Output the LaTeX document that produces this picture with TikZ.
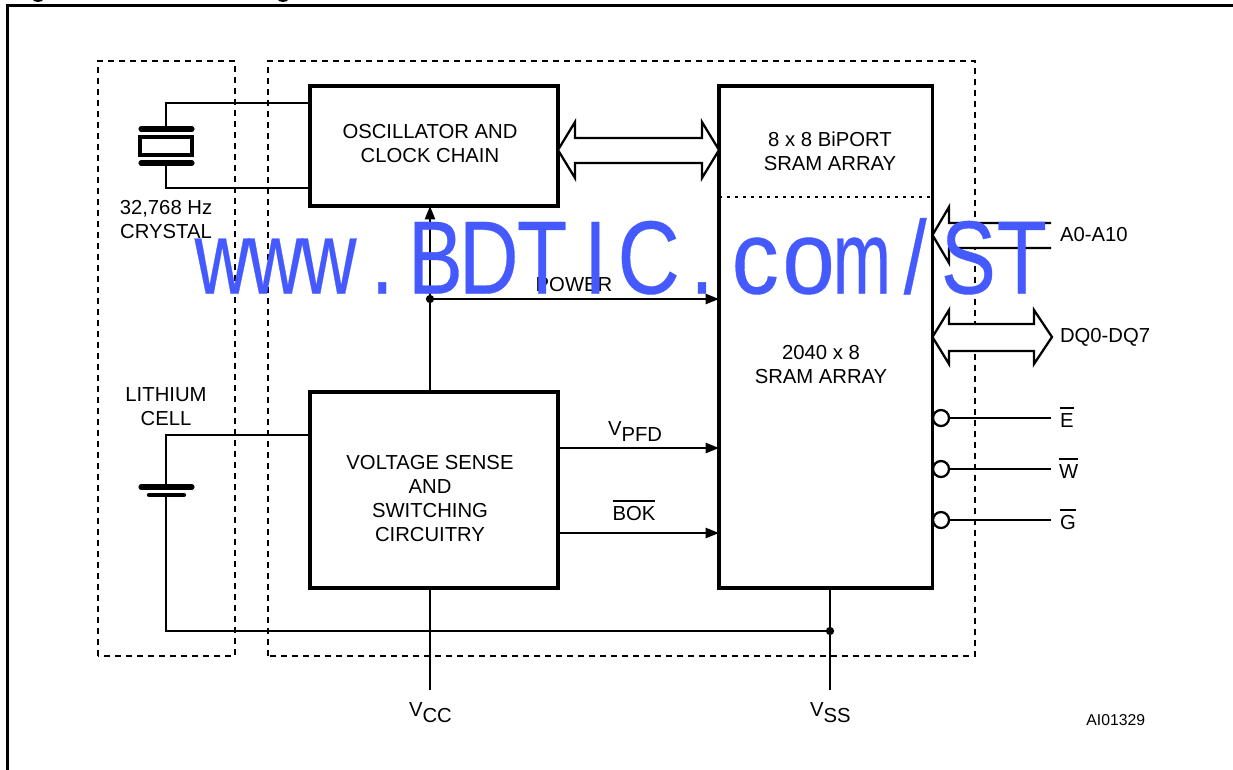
\documentclass[tikz,border=0pt]{standalone}
\usepackage{fontspec}
\usepackage{graphicx}
\setmainfont{Liberation Sans}
\newfontfamily\wmfont[FakeBold=0.35]{Liberation Sans}
\usetikzlibrary{arrows.meta,calc}
\definecolor{wmblue}{RGB}{68,90,255}
\newcommand\ovl[1]{\vbox{\hrule height 1.2pt \kern 3pt \hbox{#1}}}
\newcommand\wc[1]{\makebox[50.6pt][c]{#1}}
\newcommand\wcs[2]{\makebox[50.6pt][c]{\scalebox{#1}[1]{#2}}}
\newcommand\lowr[1]{\raisebox{-4.6pt}{#1}}
\tikzset{
  blk/.style={draw,line width=2.4pt,outer sep=0pt,inner sep=0pt,fill=white},
  wire/.style={line width=1.7pt,line join=miter},
  heavyplate/.style={line width=3.8pt,line cap=round},
  lightplate/.style={line width=3.2pt,line cap=round},
  dashbox/.style={line width=1.7pt,dash pattern=on 4.2pt off 4.05pt},
  divider/.style={line width=1.9pt,dash pattern=on 2.6pt off 3.4pt},
  arr/.style={wire,-{Triangle[length=10pt,width=7.5pt]}},
  busarrow/.style={line width=1.7pt,fill=white,line join=miter},
  lbl/.style={inner sep=0pt,outer sep=0pt,align=center},
  bubble/.style={circle,draw,line width=1.7pt,fill=white,minimum size=12pt,inner sep=0pt,outer sep=0pt},
  junction/.style={circle,fill=black,minimum size=6.2pt,inner sep=0pt,outer sep=0pt},
}
\begin{document}
\begin{tikzpicture}[x=0.75pt,y=-0.75pt,font=\fontsize{15.2}{18}\selectfont]
\useasboundingbox (0,0) rectangle (1233,769);
\fill[white] (0,0) rectangle (1233,769);
% cut-off title remnants and frame
\fill (38,-1) ellipse (5.5 and 3);
\fill (283,-1) ellipse (5.5 and 3);
\draw[line width=2.25pt] (7,772) -- (7,5) -- (1236,5);
% dashed regions
\draw[dashbox] (98,656) -- (98,61) -- (235,61) -- (235,656) -- cycle;
\draw[dashbox] (268,656) -- (268,61) -- (975,61) -- (975,656) -- cycle;
% blocks
\node[blk,minimum width=186pt,minimum height=90pt] (osc) at (434,146) {};
\node[lbl] (osct) at (430,144) {OSCILLATOR AND\\CLOCK CHAIN};
\node[blk,minimum width=186pt,minimum height=147pt] (volt) at (434,490) {};
\node[lbl] (voltt) at (430,499) {VOLTAGE SENSE\\AND\\SWITCHING\\CIRCUITRY};
\node[blk,minimum width=160.1pt,minimum height=376.5pt] (sram) at (825.75,337) {};
\draw[divider] (sram.west|-0,197) -- (sram.east|-0,197);
\node[lbl] (biport) at (830,151) {8 x 8 BiPORT\\SRAM ARRAY};
\node[lbl] (arr2040) at (821,365) {2040 x 8\\SRAM ARRAY};
% crystal
\coordinate (xt) at (166,127);
\coordinate (xb) at (166,164);
\draw[wire] (osc.west|-0,103) -- (166,103) -- (xt);
\draw[wire] (osc.west|-0,188) -- (166,188) -- (xb);
\draw[heavyplate] (141,129) -- (192,129);
\draw[heavyplate] (141,163) -- (192,163);
\node[draw,line width=2.5pt,minimum width=39pt,minimum height=13.5pt,outer sep=0pt,inner sep=0pt] (quartz) at (166,146) {};
\node[lbl] (xtal) at (166,220) {32,768 Hz\\CRYSTAL};
% battery
\node[lbl] (cell) at (166,407) {LITHIUM\\CELL};
\coordinate (batt) at (166,487);
\coordinate (battm) at (166,495);
\coordinate (vcc) at (430,690);
\coordinate (vss) at (830,690);
\draw[wire] (volt.west|-0,435) -- (166,435) -- (batt);
\draw[heavyplate] (141,487) -- (192,487);
\draw[lightplate] (149,495) -- (184,495);
\node[junction] (gnd) at (830,631) {};
\draw[wire] (battm) -- (166,631) -- (gnd);
\draw[wire] (sram.south-|vss) -- (vss);
\draw[wire] (volt.south-|vcc) -- (vcc);
% power
\node[junction] (pwr) at (430,299) {};
\draw[arr] (volt.north-|pwr) -- (osc.south-|pwr);
\draw[arr] (pwr) -- (sram.west|-pwr);
\node[lbl,anchor=base] (power) at (574,291) {POWER};
% status
\coordinate (pfd) at (volt.east|-0,448);
\coordinate (bok) at (volt.east|-0,533);
\draw[arr] (pfd) -- (sram.west|-pfd);
\draw[arr] (bok) -- (sram.west|-bok);
\node[lbl,anchor=base west] (vpfdl) at (608,435) {V\lowr{PFD}};
\node[lbl,anchor=base] (bokl) at (634,520) {\ovl{BOK}};
% internal bus
\draw[busarrow] (osc.east|-0,150) -- ++(17,-28) -- ++(0,16) -- (702,138) -- (702,122) -- (sram.west|-0,150) -- (702,178) -- (702,163) -- (575,163) -- (575,178) -- cycle;
% address bus
\draw[busarrow] (1051,223) -- (949,223) -- (949,207) -- (sram.east|-0,235) -- (949,263) -- (949,248) -- (1051,248);
\node[lbl,anchor=base west] (addr) at (1060,241) {A0-A10};
% data bus
\draw[busarrow] (sram.east|-0,337) -- (949,310) -- (949,324) -- (1034,324) -- (1034,310) -- (1052,337) -- (1034,364) -- (1034,351) -- (949,351) -- (949,364) -- cycle;
\node[lbl,anchor=base west] (data) at (1060,342) {DQ0-DQ7};
% control pins
\node[bubble] (be) at (941,418) {};
\node[bubble] (bw) at (941,469) {};
\node[bubble] (bg) at (941,520) {};
\coordinate (ee) at (1051,418);
\coordinate (we) at (1051,469);
\coordinate (ge) at (1051,520);
\draw[wire] (be) -- (ee);
\draw[wire] (bw) -- (we);
\draw[wire] (bg) -- (ge);
\node[lbl,anchor=base west] (el) at (1060,427) {\ovl{E}};
\node[lbl,anchor=base west] (wl) at (1059,478) {\ovl{W}};
\node[lbl,anchor=base west] (gl) at (1060,529) {\ovl{G}};
% supply labels
\node[lbl,anchor=base west] (vccl) at (409,716) {V\lowr{CC}};
\node[lbl,anchor=base west] (vssl) at (810,716) {V\lowr{SS}};
\node[lbl,anchor=base east,font=\fontsize{11.8}{13}\selectfont] (ref) at (1145,725) {AI01329};
% watermark
\node[lbl,anchor=base,text=wmblue,xscale=0.79,font=\wmfont\fontsize{78}{90}\selectfont] (wm) at (622,293.5) {\wcs{0.93}{w}\wcs{0.93}{w}\wcs{0.93}{w}\wc{.}\wc{B}\wc{D}\wc{T}\wc{I}\wcs{1.05}{C}\wc{.}\wcs{1.15}{c}\wcs{1.15}{o}\wcs{0.85}{m}\wc{/}\wc{S}\wc{T}};
\end{tikzpicture}
\end{document}
